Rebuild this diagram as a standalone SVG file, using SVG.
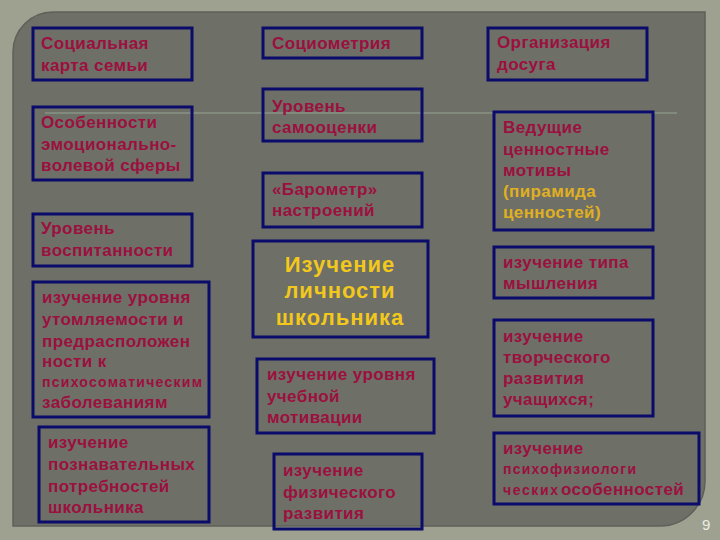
<svg xmlns="http://www.w3.org/2000/svg" width="720" height="540" viewBox="0 0 720 540">
<style>
.box{fill:none;stroke:#0b0b6b;stroke-width:3}
.t{font-family:"Liberation Sans",Arial,sans-serif;font-size:17px;font-weight:bold;fill:#9c1040;letter-spacing:0.4px}
.s{font-family:"Liberation Sans",Arial,sans-serif;font-size:14px;font-weight:bold;fill:#9c1040}
.y{font-family:"Liberation Sans",Arial,sans-serif;font-size:17px;font-weight:bold;fill:#e0b020;letter-spacing:0.4px}
.big{font-family:"Liberation Sans",Arial,sans-serif;font-size:22px;font-weight:bold;fill:#f2c81c;letter-spacing:1px;text-anchor:middle}
</style>
<rect x="0" y="0" width="720" height="540" fill="#9fa190"/>
<path d="M13,52 A40,40 0 0 1 53,12 L705,12 L705,480 A45,45 0 0 1 660,526 L13,526 Z" fill="#6e6f67" stroke="#5f6059" stroke-width="1.5"/>
<line x1="45" y1="113" x2="677" y2="113" stroke="#93a592" stroke-width="1.2"/>

<g id="n1"><rect class="box" x="33" y="28" width="159" height="52"/>
<text class="t" x="41" y="49">Социальная</text><text class="t" x="41" y="71">карта семьи</text></g>

<g id="n2"><rect class="box" x="33" y="107" width="159" height="73"/>
<text class="t" x="41" y="128">Особенности</text><text class="t" x="41" y="150">эмоционально-</text><text class="t" x="41" y="171">волевой сферы</text></g>

<g id="n3"><rect class="box" x="33" y="214" width="159" height="52"/>
<text class="t" x="41" y="234">Уровень</text><text class="t" x="41" y="256">воспитанности</text></g>

<g id="n4"><rect class="box" x="33" y="282" width="176" height="135"/>
<text class="t" x="42" y="303">изучение уровня</text><text class="t" x="42" y="325">утомляемости и</text><text class="t" x="42" y="347">предрасположен</text><text class="t" x="42" y="367">ности к</text><text class="s" x="42" y="387" textLength="160">психосоматическим</text><text class="t" x="42" y="408">заболеваниям</text></g>

<g id="n5"><rect class="box" x="39" y="427" width="170" height="95"/>
<text class="t" x="48" y="448">изучение</text><text class="t" x="48" y="470">познавательных</text><text class="t" x="48" y="492">потребностей</text><text class="t" x="48" y="513">школьника</text></g>

<g id="n6"><rect class="box" x="263" y="28" width="159" height="30"/>
<text class="t" x="272" y="49">Социометрия</text></g>

<g id="n7"><rect class="box" x="263" y="89" width="159" height="52"/>
<text class="t" x="272" y="112">Уровень</text><text class="t" x="272" y="133">самооценки</text></g>

<g id="n8"><rect class="box" x="263" y="173" width="159" height="54"/>
<text class="t" x="272" y="195">«Барометр»</text><text class="t" x="272" y="216">настроений</text></g>

<g id="n9"><rect class="box" x="253" y="241" width="175" height="96"/>
<text class="big" x="340" y="272">Изучение</text><text class="big" x="340" y="298">личности</text><text class="big" x="340" y="325">школьника</text></g>

<g id="n10"><rect class="box" x="257" y="359" width="177" height="74"/>
<text class="t" x="267" y="380">изучение уровня</text><text class="t" x="267" y="402">учебной</text><text class="t" x="267" y="423">мотивации</text></g>

<g id="n11"><rect class="box" x="274" y="454" width="148" height="75"/>
<text class="t" x="283" y="476">изучение</text><text class="t" x="283" y="498">физического</text><text class="t" x="283" y="519">развития</text></g>

<g id="n12"><rect class="box" x="488" y="28" width="159" height="52"/>
<text class="t" x="497" y="48">Организация</text><text class="t" x="497" y="70">досуга</text></g>

<g id="n13"><rect class="box" x="494" y="112" width="159" height="118"/>
<text class="t" x="503" y="133">Ведущие</text><text class="t" x="503" y="155">ценностные</text><text class="t" x="503" y="176">мотивы</text><text class="y" x="503" y="197">(пирамида</text><text class="y" x="503" y="218">ценностей)</text></g>

<g id="n14"><rect class="box" x="494" y="247" width="159" height="51"/>
<text class="t" x="503" y="268">изучение типа</text><text class="t" x="503" y="289">мышления</text></g>

<g id="n15"><rect class="box" x="494" y="320" width="159" height="96"/>
<text class="t" x="503" y="342">изучение</text><text class="t" x="503" y="363">творческого</text><text class="t" x="503" y="384">развития</text><text class="t" x="503" y="405">учащихся;</text></g>

<g id="n16"><rect class="box" x="494" y="433" width="205" height="71"/>
<text class="t" x="503" y="454">изучение</text><text class="s" x="503" y="474" textLength="133">психофизиологи</text><text x="503" y="495"><tspan class="s" textLength="55">ческих</tspan><tspan class="t" x="561">особенностей</tspan></text></g>

<text x="702" y="530" font-family="'Liberation Sans',Arial,sans-serif" font-size="15" fill="#ecece4">9</text>
</svg>
